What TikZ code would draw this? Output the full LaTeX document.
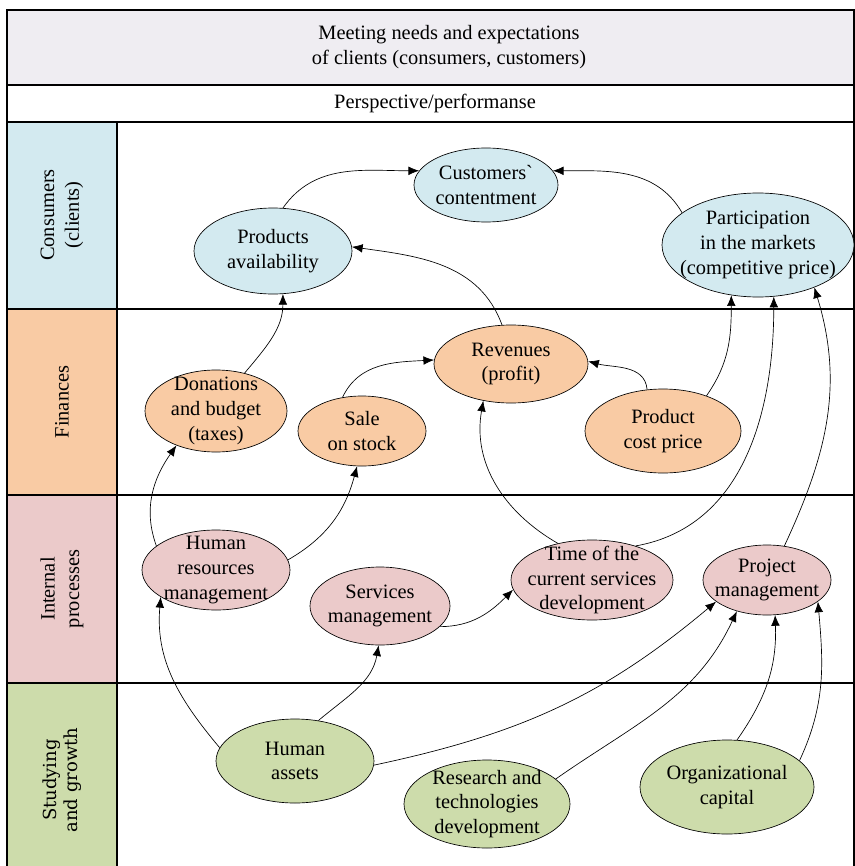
\documentclass[tikz,border=0pt]{standalone}
\usepackage{fontspec}
\setmainfont{Liberation Serif}
\newfontfamily\growthfont{DejaVu Serif}
\usepackage{tikz}
\usetikzlibrary{arrows.meta}
\usetikzlibrary{shapes.geometric}

\definecolor{hdrgray}{HTML}{EFEDF2}
\definecolor{consblue}{HTML}{D3EAF0}
\definecolor{finpeach}{HTML}{F9CBA4}
\definecolor{intpink}{HTML}{EBCACA}
\definecolor{growgreen}{HTML}{CDDCAB}

\begin{document}
\begin{tikzpicture}[x = 0.75pt, y = -0.75pt,
    font = \fontsize{15.3}{18.5}\selectfont,
    frame/.style = {draw, line width = 0.9pt},
    rowlbl/.style = {rotate = 90, align = center, inner sep = 0pt},
    elli/.style n args = {3}{ellipse, draw, line width = 0.5pt, fill = #3,
        minimum width = #1*1.5pt, minimum height = #2*1.5pt, inner sep = 0pt},
    txt/.style = {align = center, inner sep = 0pt},
    link/.style = {-{Latex[length = 8pt, width = 6.5pt]}, line width = 0.5pt}]
    \useasboundingbox (0, 0) rectangle (855, 866);

    % header bands
    \draw[frame, fill = hdrgray] (7, 10) rectangle (854, 85);
    \node[txt] (goal) at (449, 47)
        {Meeting needs and expectations\\of clients (consumers, customers)};
    \draw[frame] (7, 85) rectangle (854, 122);
    \node[txt] (persp) at (435, 103) {Perspective/performanse};

    % rows
    \draw[frame, fill = consblue] (7, 122) rectangle (117, 309);
    \draw[frame] (117, 122) rectangle (854, 309);
    \draw[frame, fill = finpeach] (7, 309) rectangle (117, 495);
    \draw[frame] (117, 309) rectangle (854, 495);
    \draw[frame, fill = intpink] (7, 495) rectangle (117, 683);
    \draw[frame] (117, 495) rectangle (854, 683);
    \draw[frame, fill = growgreen] (7, 683) rectangle (117, 867);
    \draw[frame] (117, 683) rectangle (854, 867);

    \node[rowlbl] (consumers) at (62, 215) {Consumers\\(clients)};
    \node[rowlbl] (finances) at (62, 402) {Finances};
    \node[rowlbl] (internal) at (62, 589) {Internal\\processes};
    \node[rowlbl, font = \growthfont\fontsize{13.5}{16}\selectfont] (growth)
        at (62, 780) {Studying\\and growth};

    % consumers
    \node[elli = {72}{37}{consblue},
        label = {[txt]center:Customers\textasciigrave\\contentment}]
        (cc) at (486, 185) {};
    \node[elli = {79}{43}{consblue}, label = {[txt]center:Products\\availability}]
        (pa) at (273, 251) {};
    \node[elli = {96}{52}{consblue},
        label = {[txt]center:Participation\\in the markets\\(competitive price)}]
        (pt) at (758, 245) {};

    % finances
    \node[elli = {71}{41}{finpeach},
        label = {[txt]center:Donations\\and budget\\(taxes)}]
        (db) at (216, 411) {};
    \node[elli = {64}{35}{finpeach}, label = {[txt]center:Sale\\on stock}]
        (ss) at (362, 431) {};
    \node[elli = {77}{39}{finpeach}, label = {[txt]center:Revenues\\(profit)}]
        (rv) at (511, 364) {};
    \node[elli = {78}{42}{finpeach}, label = {[txt]center:Product\\cost price}]
        (pc) at (663, 431) {};

    % internal processes
    \node[elli = {74}{40}{intpink},
        label = {[txt]center:Human\\resources\\management}]
        (hr) at (216, 570) {};
    \node[elli = {70}{39}{intpink}, label = {[txt]center:Services\\management}]
        (sm) at (380, 606) {};
    \node[elli = {81}{40}{intpink},
        label = {[txt]center:Time of the\\current services\\development}]
        (tc) at (592, 580) {};
    \node[elli = {64}{35}{intpink}, label = {[txt]center:Project\\management}]
        (pm) at (767, 580) {};

    % studying and growth
    \node[elli = {79}{42}{growgreen}, label = {[txt]center:Human\\assets}]
        (ha) at (295, 761) {};
    \node[elli = {83}{44}{growgreen},
        label = {[txt]center:Research and\\technologies\\development}]
        (rt) at (487, 804) {};
    \node[elli = {87}{47}{growgreen},
        label = {[txt]center:Organizational\\capital}]
        (oc) at (727, 787) {};

    % links
    \draw[link] (pa.77) to[out = 55, in = 180] (cc.168);
    \draw[link] (pt.157) to[out = 120, in = 0] (cc.12);
    \draw[link] (rv.103) to[out = 110, in = -8] (pa.3);
    \draw[link] (db.53) to[out = 50, in = -90] (pa.283);
    \draw[link] (ss.120) to[out = 65, in = 183] (rv.177);
    \draw[link] (pc.111) to[out = 95, in = -15] (rv.2);
    \draw[link] (pc.39) to[out = 55, in = -90] (pt.242);
    \draw[link] (hr.158) to[out = 110, in = 235] (db.221);
    \draw[link] (hr.8) to[out = 30, in = -105] (ss.262);
    \draw[link] (tc.133) to[out = 150, in = -100] (rv.233);
    \draw[link] (tc.38) to[out = 10, in = -90] (pt.287);
    \draw[link] (pm.63) to[out = 65, in = -73] (pt.323);
    \draw[link] (ha.170) to[out = 130, in = -95] (hr.206);
    \draw[link] (ha.60) to[out = 40, in = -100] (sm.268);
    \draw[link] (sm.-19) to[out = 0, in = 225] (tc.187);
    \draw[link] (ha.-3) to[out = 12, in = 220] (pm.203);
    \draw[link] (rt.20) to[out = 35, in = 245] (pm.226);
    \draw[link] (oc.78) to[out = 55, in = -88] (pm.283);
    \draw[link] (oc.20) to[out = 65, in = -85] (pm.-23);
\end{tikzpicture}
\end{document}
